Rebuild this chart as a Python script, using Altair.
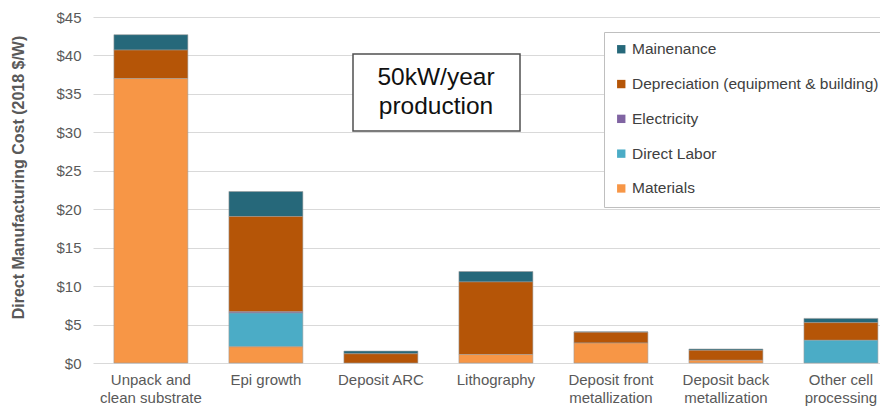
import altair as alt
import pandas as pd

categories = ["Unpack and|clean substrate", "Epi growth", "Deposit ARC", "Lithography",
              "Deposit front|metallization", "Deposit back|metallization", "Other cell|processing"]
series = ["Mainenance", "Depreciation (equipment & building)", "Electricity", "Direct Labor", "Materials"]
colors = ["#26687A", "#B55507", "#8064A2", "#4BACC6", "#F79646"]
stack_order = [4, 3, 2, 1, 0]

materials = [37.0, 2.1, 0.0, 1.1, 2.6, 0.35, 0.0]
direct_labor = [0.0, 4.4, 0.0, 0.0, 0.0, 0.0, 2.95]
electricity = [0.0, 0.15, 0.0, 0.0, 0.0, 0.0, 0.0]
depreciation = [3.7, 12.4, 1.2, 9.45, 1.4, 1.3, 2.3]
maintenance = [2.0, 3.25, 0.35, 1.35, 0.05, 0.17, 0.55]

values_by_series = {
    "Mainenance": maintenance,
    "Depreciation (equipment & building)": depreciation,
    "Electricity": electricity,
    "Direct Labor": direct_labor,
    "Materials": materials,
}

rows = []
for s, o in zip(series, stack_order):
    for c, v in zip(categories, values_by_series[s]):
        if v > 0:
            rows.append({"step": c, "cost": v, "component": s, "ord": o})
df = pd.DataFrame(rows)

y_ticks = [0, 5, 10, 15, 20, 25, 30, 35, 40, 45]

W, H = 787, 346

bars = alt.Chart(df).mark_bar(stroke="#9a9a9a", strokeWidth=0.7, strokeOpacity=0.8).encode(
    x=alt.X("step:N", sort=categories,
            scale=alt.Scale(paddingInner=0.357, paddingOuter=0.1, align=0.909),
            axis=alt.Axis(title=None, labelAngle=0, domain=False, ticks=False,
                          labelExpr="split(datum.label, '|')", labelFont="Liberation Sans",
                          labelFontSize=15, labelColor="#595959", labelPadding=9,
                          labelLineHeight=18, labelLimit=200)),
    y=alt.Y("cost:Q", stack="zero",
            scale=alt.Scale(domain=[0, 45], nice=False),
            axis=alt.Axis(values=y_ticks, labelExpr="'$' + datum.value",
                          title="Direct Manufacturing Cost (2018 $/W)",
                          titleFont="Liberation Sans", titleFontSize=16, titleFontWeight="bold",
                          titleColor="#595959", titleX=-75, titleY=160, titleBaseline="middle",
                          titleAngle=270, titleAlign="center",
                          labelFont="Liberation Sans", labelFontSize=15, labelColor="#595959",
                          labelPadding=12, domain=False, ticks=False,
                          grid=True, gridColor="#d9d9d9", gridWidth=1)),
    color=alt.Color("component:N",
                    scale=alt.Scale(domain=series, range=colors),
                    legend=alt.Legend(title=None, orient="none", legendX=511, legendY=15,
                                      padding=9.5, strokeColor="#bfbfbf", fillColor="white",
                                      symbolType="square", symbolSize=70, symbolStrokeWidth=0,
                                      labelFont="Liberation Sans", labelFontSize=15.5,
                                      labelColor="#404040", labelLimit=400, labelOffset=3,
                                      rowPadding=17.8)),
    order=alt.Order("ord:Q", sort="ascending"),
)

note_df = pd.DataFrame({"t": ["50kW/year\nproduction"]})
box = alt.Chart(note_df).mark_rect(fill="white", stroke="#505050", strokeWidth=1.5).encode(
    x=alt.value(260), x2=alt.value(427), y=alt.value(37), y2=alt.value(114))
note = alt.Chart(note_df).mark_text(font="Liberation Sans", fontSize=24.5, color="#111111",
                                    lineBreak="\n", lineHeight=29, align="center",
                                    baseline="alphabetic").encode(
    x=alt.value(343), y=alt.value(68), text="t:N")

chart = alt.layer(bars, box, note).properties(
    width=W, height=H,
    autosize=alt.AutoSizeParams(type="none"),
    padding={"left": 85, "top": 9, "right": 0, "bottom": 43},
).configure_view(stroke=None)

chart.save("out.html", embed_options={"renderer": "svg", "actions": False})
